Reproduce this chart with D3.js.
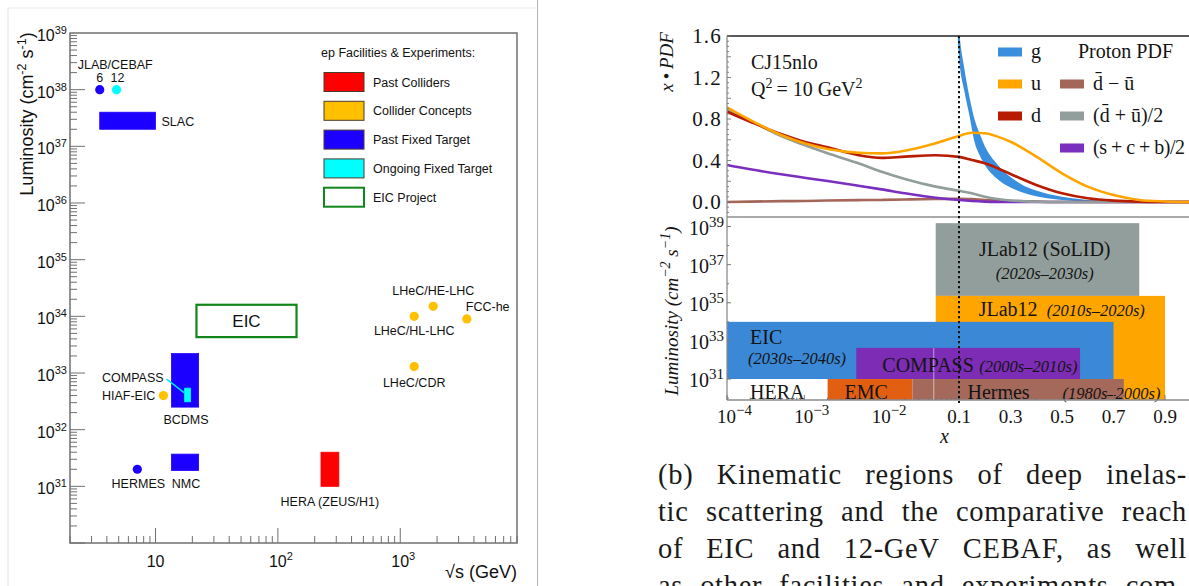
<!DOCTYPE html>
<html>
<head>
<meta charset="utf-8">
<script src="https://cdn.jsdelivr.net/npm/d3@7"></script>
<style>
  html, body { margin: 0; padding: 0; background: #fff; }
  svg { display: block; }
</style>
</head>
<body>
<svg id="fig" width="1189" height="586"></svg>
<script>
// ---------------------------------------------------------------
// Left panel: ep facilities, sqrt(s) in GeV vs luminosity (cm^-2 s^-1)
// ---------------------------------------------------------------
const pointNames = ["JLAB 6", "JLAB 12", "HERMES", "HIAF-EIC", "LHeC/HE-LHC", "LHeC/HL-LHC", "FCC-he", "LHeC/CDR"];
const pointSqrtS = [3.5, 4.8, 7.1, 11.6, 1860, 1300, 3500, 1300];
const pointLumi  = [1e38, 1e38, 2e31, 4e32, 1.5e34, 1e34, 9e33, 1.3e33];
const pointKind  = ["pastFixed", "ongoingFixed", "pastFixed", "concept", "concept", "concept", "concept", "concept"];

const boxNames = ["SLAC", "BCDMS", "NMC", "COMPASS", "HERA (ZEUS/H1)", "EIC"];
const boxSqrtS = [[3.5, 10], [13.5, 22.5], [13.5, 22.5], [17.3, 19.3], [225, 315], [21.6, 142]];
const boxLumi  = [[2e37, 4e37], [2.5e32, 2.2e33], [1.9e31, 3.7e31], [3.1e32, 5.4e32], [1e31, 4e31], [4.3e33, 1.6e34]];
const boxKind  = ["pastFixed", "pastFixed", "pastFixed", "ongoingFixed", "pastCollider", "eic"];

const legendTitle  = "ep Facilities & Experiments:";
const legendKinds  = ["pastCollider", "concept", "pastFixed", "ongoingFixed", "eic"];
const legendLabels = ["Past Colliders", "Collider Concepts", "Past Fixed Target", "Ongoing Fixed Target", "EIC Project"];

const lumiTickExponents = [31, 32, 33, 34, 35, 36, 37, 38, 39];
const sqrtSTickLabels   = [{v: 10, base: "10", exp: ""}, {v: 100, base: "10", exp: "2"}, {v: 1000, base: "10", exp: "3"}];

// ---------------------------------------------------------------
// Right panel, top: CJ15nlo proton PDFs at Q^2 = 10 GeV^2 (x * f(x))
// ---------------------------------------------------------------
const pdfX    = [1e-4, 2e-4, 5e-4, 1e-3, 2e-3, 5e-3, 0.01, 0.02, 0.05, 0.1, 0.15, 0.2, 0.25, 0.3, 0.4, 0.5, 0.6, 0.7, 0.8, 0.9, 1.0];
const pdfU    = [0.913, 0.79, 0.646, 0.566, 0.511, 0.475, 0.469, 0.494, 0.566, 0.636, 0.667, 0.662, 0.63, 0.581, 0.437, 0.277, 0.148, 0.067, 0.02, 0.005, 0];
const pdfD    = [0.87, 0.774, 0.655, 0.581, 0.527, 0.452, 0.425, 0.437, 0.451, 0.435, 0.405, 0.373, 0.325, 0.27, 0.164, 0.084, 0.036, 0.013, 0.003, 0, 0];
const pdfSea  = [0.893, 0.782, 0.636, 0.549, 0.469, 0.373, 0.292, 0.222, 0.148, 0.108, 0.084, 0.051, 0.029, 0.015, 0.003, 0, 0, 0, 0, 0, 0];
const pdfHeavy= [0.357, 0.315, 0.267, 0.234, 0.202, 0.157, 0.122, 0.084, 0.041, 0.019, 0.01, 0.004, 0.001, 0, 0, 0, 0, 0, 0, 0, 0];
const pdfDbarMinusUbar = [0, 0.004, 0.008, 0.01, 0.014, 0.018, 0.02, 0.024, 0.029, 0.032, 0.028, 0.02, 0.014, 0.01, 0.004, 0, 0, 0, 0, 0, 0];

// gluon uncertainty band (lower / upper edge)
const gluonX  = [0.09, 0.1, 0.12, 0.14, 0.16, 0.18, 0.2, 0.25, 0.3, 0.35, 0.4, 0.5, 0.6, 0.7, 0.8, 0.9, 1.0];
const gluonLo = [2.0, 1.40, 1.08, 0.84, 0.58, 0.45, 0.36, 0.22, 0.14, 0.09, 0.055, 0.02, 0.006, 0.002, 0, 0, 0];
const gluonHi = [2.3, 1.68, 1.30, 1.02, 0.80, 0.66, 0.54, 0.36, 0.24, 0.16, 0.11, 0.05, 0.02, 0.007, 0.002, 0, 0];

const pdfYTicks = [0.0, 0.4, 0.8, 1.2, 1.6];

// ---------------------------------------------------------------
// Right panel, bottom: kinematic reach in x and luminosity
// ---------------------------------------------------------------
const expNames  = ["JLab12 (SoLID)", "JLab12", "EIC", "COMPASS", "HERA", "EMC", "Hermes"];
const expX      = [[0.05, 0.8], [0.05, 0.9], [1e-4, 0.7], [0.0047, 0.57], [1e-4, 2e-3], [2e-3, 0.025], [0.025, 0.74]];
const expLumi   = [[2.3e35, 1.5e39], [7.9e29, 2.3e35], [1e31, 1e34], [1e31, 4.3e32], [7.9e29, 1e31], [7.9e29, 1e31], [7.9e29, 1e31]];
const expEras   = ["(2020s\u20132030s)", "(2010s\u20132020s)", "(2030s\u20132040s)", "(2000s\u20132010s)", "", "", "(1980s\u20132000s)"];

const lumiRightTickExponents = [31, 33, 35, 37, 39];
const xLogTickExponents = [-4, -3, -2];
const xLinTickLabels = [0.1, 0.3, 0.5, 0.7, 0.9];

const captionLines = [
  "(b) Kinematic regions of deep inelas-",
  "tic scattering and the comparative reach",
  "of EIC and 12-GeV CEBAF, as well",
  "as other facilities and experiments com-"
];

// ---------------------------------------------------------------
const svg = d3.select("#fig");
const SANS = "'Liberation Sans', Arial, Helvetica, sans-serif";
const SERIF = "'Liberation Serif', 'Times New Roman', serif";

const kindFill = {
  pastCollider: "#ff0000",
  concept: "#ffc000",
  pastFixed: "#1c00ff",
  ongoingFixed: "#00ffff",
  eic: "#ffffff"
};

// superscript helper for power-of-ten labels
function power(textSel, base, exp, supSize, rise) {
  textSel.append("tspan").text(base);
  if (exp) textSel.append("tspan").attr("font-size", supSize).attr("dy", -rise).text(exp);
  return textSel;
}

// ===================== LEFT PANEL =====================
const LP = {x0: 70, x1: 517, y0: 33, y1: 543};
const xL = d3.scaleLog().domain([2, 9000]).range([LP.x0, LP.x1]);
const yL = d3.scaleLog().domain([1e30, 1e39]).range([LP.y1, LP.y0]);

// panel border of the left figure
svg.append("line").attr("x1", 8).attr("x2", 8).attr("y1", 8).attr("y2", 586).attr("stroke", "#e2e2e2");
svg.append("line").attr("x1", 8).attr("x2", 537).attr("y1", 8).attr("y2", 8).attr("stroke", "#ececec");
svg.append("line").attr("x1", 537.5).attr("x2", 537.5).attr("y1", 0).attr("y2", 586).attr("stroke", "#b4b4b4");

const left = svg.append("g").attr("font-family", SANS);

// frame
left.append("rect").attr("x", LP.x0).attr("y", LP.y0)
  .attr("width", LP.x1 - LP.x0).attr("height", LP.y1 - LP.y0)
  .attr("fill", "none").attr("stroke", "#707070").attr("stroke-width", 1.5);

// y ticks (log, inward)
const yTicksL = [];
for (let d = 30; d < 39; d++) for (let k = 1; k <= 9; k++) yTicksL.push({v: k * Math.pow(10, d), major: k === 1});
left.append("g").selectAll("line").data(yTicksL).join("line")
  .attr("x1", LP.x0).attr("x2", d => LP.x0 + (d.major ? 15 : 7))
  .attr("y1", d => yL(d.v)).attr("y2", d => yL(d.v))
  .attr("stroke", "#707070").attr("stroke-width", 1);

lumiTickExponents.forEach(e => {
  const t = left.append("text").attr("x", LP.x0 - 3).attr("y", yL(Math.pow(10, e)) + 8)
    .attr("text-anchor", "end").attr("font-size", 16).attr("fill", "#111");
  power(t, "10", String(e), 11, 7);
});

// x ticks (log, inward)
const xTicksL = [];
for (let d = 0; d <= 3; d++) for (let k = 1; k <= 9; k++) {
  const v = k * Math.pow(10, d);
  if (v >= 2 && v <= 9000) xTicksL.push({v, major: k === 1});
}
left.append("g").selectAll("line").data(xTicksL).join("line")
  .attr("x1", d => xL(d.v)).attr("x2", d => xL(d.v))
  .attr("y1", LP.y1).attr("y2", d => LP.y1 - (d.major ? 15 : 7))
  .attr("stroke", "#707070").attr("stroke-width", 1);

sqrtSTickLabels.forEach(t => {
  const tx = left.append("text").attr("x", xL(t.v) + (t.exp ? 3 : 0)).attr("y", LP.y1 + 24)
    .attr("text-anchor", "middle").attr("font-size", 16).attr("fill", "#111");
  power(tx, t.base, t.exp, 11, 7);
});

// axis titles
left.append("text").attr("x", LP.x1).attr("y", 578).attr("text-anchor", "end")
  .attr("font-size", 18).attr("fill", "#111").text("\u221As (GeV)");
const yTitle = left.append("text")
  .attr("transform", `translate(33, ${(26 + 202) / 2}) rotate(-90)`)
  .attr("text-anchor", "middle").attr("font-size", 18).attr("fill", "#111");
yTitle.append("tspan").text("Luminosity (cm");
yTitle.append("tspan").attr("font-size", 12.5).attr("dy", -7).text("-2");
yTitle.append("tspan").attr("dy", 7).text(" s");
yTitle.append("tspan").attr("font-size", 12.5).attr("dy", -7).text("-1");
yTitle.append("tspan").attr("dy", 7).text(")");

// boxes
const boxes = boxNames.map((name, i) => ({name, s: boxSqrtS[i], l: boxLumi[i], kind: boxKind[i]}));
left.append("g").selectAll("rect").data(boxes).join("rect")
  .attr("x", d => xL(d.s[0])).attr("y", d => yL(d.l[1]))
  .attr("width", d => xL(d.s[1]) - xL(d.s[0])).attr("height", d => yL(d.l[0]) - yL(d.l[1]))
  .attr("fill", d => kindFill[d.kind])
  .attr("stroke", d => d.kind === "eic" ? "#12861a" : d3.color(kindFill[d.kind]).brighter(0.6))
  .attr("stroke-width", d => d.kind === "eic" ? 2.2 : 0.8);

// points
const points = pointNames.map((name, i) => ({name, s: pointSqrtS[i], l: pointLumi[i], kind: pointKind[i]}));
left.append("g").selectAll("circle").data(points).join("circle")
  .attr("cx", d => xL(d.s)).attr("cy", d => yL(d.l)).attr("r", 4.6)
  .attr("fill", d => kindFill[d.kind]);

// labels placed around their marks
const P = name => points.find(p => p.name === name);
const B = name => boxes.find(b => b.name === name);
function lbl(x, y, text, anchor = "middle", size = 12.5) {
  left.append("text").attr("x", x).attr("y", y).attr("text-anchor", anchor)
    .attr("font-size", size).attr("fill", "#111").text(text);
}
const j6 = P("JLAB 6"), j12 = P("JLAB 12");
lbl(xL(j6.s) - 22, yL(j6.l) - 21, "JLAB/CEBAF", "start");
lbl(xL(j6.s), yL(j6.l) - 8, "6");
lbl(xL(j12.s) + 1, yL(j12.l) - 8, "12");
const slac = B("SLAC");
lbl(xL(slac.s[1]) + 6, (yL(slac.l[0]) + yL(slac.l[1])) / 2 + 5, "SLAC", "start");
const eic = B("EIC");
lbl((xL(eic.s[0]) + xL(eic.s[1])) / 2, (yL(eic.l[0]) + yL(eic.l[1])) / 2 + 6, "EIC", "middle", 17);
const comp = B("COMPASS");
lbl(xL(comp.s[0]) - 21, yL(comp.l[1]) - 6, "COMPASS", "end");
left.append("line")
  .attr("x1", xL(comp.s[0]) - 18).attr("y1", yL(comp.l[1]) - 9)
  .attr("x2", xL(comp.s[0])).attr("y2", yL(comp.l[1]) + 5)
  .attr("stroke", "#00e5ff").attr("stroke-width", 1.5);
const hiaf = P("HIAF-EIC");
lbl(xL(hiaf.s) - 8, yL(hiaf.l) + 4.5, "HIAF-EIC", "end");
const bcdms = B("BCDMS");
lbl((xL(bcdms.s[0]) + xL(bcdms.s[1])) / 2 + 1, yL(bcdms.l[0]) + 17, "BCDMS");
const hermesL = P("HERMES");
lbl(xL(hermesL.s) + 1, yL(hermesL.l) + 19, "HERMES");
const nmc = B("NMC");
lbl((xL(nmc.s[0]) + xL(nmc.s[1])) / 2 + 1, yL(nmc.l[0]) + 17, "NMC");
const hera = B("HERA (ZEUS/H1)");
lbl((xL(hera.s[0]) + xL(hera.s[1])) / 2, yL(hera.l[0]) + 20, "HERA (ZEUS/H1)");
const heLhc = P("LHeC/HE-LHC"), hlLhc = P("LHeC/HL-LHC"), fcc = P("FCC-he"), cdr = P("LHeC/CDR");
lbl(xL(heLhc.s), yL(heLhc.l) - 11, "LHeC/HE-LHC");
lbl(xL(hlLhc.s), yL(hlLhc.l) + 19, "LHeC/HL-LHC");
lbl(xL(fcc.s) - 1, yL(fcc.l) - 8, "FCC-he", "start");
lbl(xL(cdr.s), yL(cdr.l) + 20, "LHeC/CDR");

// legend
const leg = left.append("g");
leg.append("text").attr("x", 321).attr("y", 57).attr("font-size", 12.5).attr("fill", "#111").text(legendTitle);
legendKinds.forEach((k, i) => {
  const cy = 82 + i * 28.8;
  leg.append("rect").attr("x", 324).attr("y", cy - 9.5).attr("width", 40).attr("height", 19)
    .attr("fill", kindFill[k])
    .attr("stroke", k === "eic" ? "#12861a" : "#4a3a30").attr("stroke-width", k === "eic" ? 2 : 1);
  leg.append("text").attr("x", 373).attr("y", cy + 4.5).attr("font-size", 12.5).attr("fill", "#111").text(legendLabels[i]);
});

// ===================== RIGHT PANEL =====================
const RX0 = 727, RX_SPLIT = 959, RX1 = 1190.75;
const xLogPart = d3.scaleLog().domain([1e-4, 0.1]).range([RX0, RX_SPLIT]);
const xLinPart = d3.scaleLinear().domain([0.1, 1]).range([RX_SPLIT, RX1]);
const xR = v => (v <= 0.1 ? xLogPart(v) : xLinPart(v));

const TOP = {y0: 36, yZero: 202, y1: 217};
const yTop = d3.scaleLinear().domain([0, 1.6]).range([TOP.yZero, TOP.y0]);
const BOT = {y0: 217, y1: 400};
const yBot = d3.scaleLog().domain([Math.pow(10, 29.9), Math.pow(10, 39.5)]).range([BOT.y1, BOT.y0]);

const right = svg.append("g").attr("font-family", SERIF);
const defs = svg.append("defs");
defs.append("clipPath").attr("id", "clipTop").append("rect")
  .attr("x", RX0).attr("y", TOP.y0).attr("width", 1189 - RX0).attr("height", TOP.y1 - TOP.y0);
defs.append("clipPath").attr("id", "clipBot").append("rect")
  .attr("x", RX0).attr("y", BOT.y0).attr("width", 1189 - RX0).attr("height", BOT.y1 - BOT.y0);

// ---- bottom: experiment regions ----
const expColors = {
  "JLab12 (SoLID)": "#929e9b", "JLab12": "#ffa500", "EIC": "#3a88d6", "COMPASS": "#7d2cb5",
  "HERA": "#ffffff", "EMC": "#e25e10", "Hermes": "#a5695b"
};
const exps = expNames.map((name, i) => ({name, x: expX[i], l: expLumi[i], era: expEras[i]}));
const botG = right.append("g").attr("clip-path", "url(#clipBot)");
botG.selectAll("rect").data(exps).join("rect")
  .attr("x", d => xR(d.x[0])).attr("y", d => yBot(d.l[1]))
  .attr("width", d => xR(d.x[1]) - xR(d.x[0])).attr("height", d => yBot(d.l[0]) - yBot(d.l[1]))
  .attr("fill", d => expColors[d.name]);
// faint seam at the left edge of the JLab regions, through COMPASS and Hermes
const jl = exps.find(e => e.name === "JLab12"), cp = exps.find(e => e.name === "COMPASS");
botG.append("line").attr("x1", xR(jl.x[0]) - 2).attr("x2", xR(jl.x[0]) - 2)
  .attr("y1", yBot(cp.l[1])).attr("y2", BOT.y1)
  .attr("stroke", "#ffffff").attr("stroke-opacity", 0.45).attr("stroke-width", 1.2);

const E = name => exps.find(e => e.name === name);
function rlbl(x, y, text, size = 20, italic = false, anchor = "start") {
  right.append("text").attr("x", x).attr("y", y).attr("font-size", size)
    .attr("font-style", italic ? "italic" : "normal").attr("text-anchor", anchor)
    .attr("fill", "#141414").text(text);
}
const solid = E("JLab12 (SoLID)");
rlbl(xR(solid.x[0]) + 109, yBot(solid.l[1]) + 33, solid.name, 20, false, "middle");
rlbl(xR(solid.x[0]) + 109, yBot(solid.l[1]) + 56, solid.era, 16.5, true, "middle");
rlbl(xR(jl.x[0]) + 43, yBot(jl.l[1]) + 20, jl.name);
rlbl(xR(jl.x[0]) + 111, yBot(jl.l[1]) + 20, jl.era, 16.5, true);
const eicR = E("EIC");
rlbl(xR(eicR.x[0]) + 23, yBot(eicR.l[1]) + 22, eicR.name);
rlbl(xR(eicR.x[0]) + 21, yBot(eicR.l[1]) + 42, eicR.era, 16.5, true);
rlbl(xR(cp.x[0]) + 26, yBot(cp.l[1]) + 24, cp.name);
rlbl(xR(cp.x[0]) + 123, yBot(cp.l[1]) + 24, cp.era, 16.5, true);
const heraR = E("HERA"), emc = E("EMC"), herm = E("Hermes");
rlbl(xR(heraR.x[0]) + 23, yBot(heraR.l[1]) + 20, heraR.name);
rlbl(xR(emc.x[0]) + 17, yBot(emc.l[1]) + 20, emc.name);
rlbl(xR(herm.x[0]) + 55, yBot(herm.l[1]) + 20, herm.name);
rlbl(xR(herm.x[0]) + 150, yBot(herm.l[1]) + 20, herm.era, 16.5, true);

// ---- top: PDF curves ----
const topG = right.append("g").attr("clip-path", "url(#clipTop)");
const area = d3.area().x(d => xR(d.x)).y0(d => yTop(d.lo)).y1(d => yTop(d.hi)).curve(d3.curveMonotoneX);
topG.append("path")
  .datum(gluonX.map((x, i) => ({x, lo: gluonLo[i], hi: gluonHi[i]})))
  .attr("d", area).attr("fill", "#3a8ede");

const line = d3.line().x(d => xR(d.x)).y(d => yTop(d.y)).curve(d3.curveMonotoneX);
const curves = [
  {vals: pdfDbarMinusUbar, color: "#a5665a"},
  {vals: pdfHeavy, color: "#7b2fbf"},
  {vals: pdfSea, color: "#919e9c"},
  {vals: pdfD, color: "#b81c00"},
  {vals: pdfU, color: "#ffa500"}
];
curves.forEach(c => {
  topG.append("path").datum(pdfX.map((x, i) => ({x, y: c.vals[i]})))
    .attr("d", line).attr("fill", "none").attr("stroke", c.color).attr("stroke-width", 2.6);
});

// ---- axes, frame ----
const axisGray = "#8c8c8c";
right.append("line").attr("x1", RX0).attr("x2", 1189).attr("y1", TOP.y0).attr("y2", TOP.y0)
  .attr("stroke", "#222").attr("stroke-width", 1.5);
right.append("line").attr("x1", RX0).attr("x2", 1189).attr("y1", BOT.y0).attr("y2", BOT.y0)
  .attr("stroke", axisGray).attr("stroke-width", 1.3);
right.append("line").attr("x1", RX0).attr("x2", 1189).attr("y1", BOT.y1).attr("y2", BOT.y1)
  .attr("stroke", axisGray).attr("stroke-width", 1.3);
right.append("line").attr("x1", RX0).attr("x2", RX0).attr("y1", TOP.y0).attr("y2", BOT.y1)
  .attr("stroke", axisGray).attr("stroke-width", 1.3);

// top y ticks
const topTicks = d3.range(-2, 33).map(i => i * 0.05);
right.append("g").selectAll("line").data(topTicks).join("line")
  .attr("x1", RX0).attr("x2", (d, i) => RX0 + ((i + 2) % 4 === 0 ? 4 : 2))
  .attr("y1", d => yTop(d)).attr("y2", d => yTop(d))
  .attr("stroke", "#777").attr("stroke-width", 0.9);
pdfYTicks.forEach(v => {
  right.append("text").attr("x", RX0 - 5).attr("y", yTop(v) + 7).attr("text-anchor", "end")
    .attr("font-size", 21).attr("letter-spacing", 1.2).attr("fill", "#141414").text(v.toFixed(1));
});

// bottom y ticks
for (let d = 30; d <= 39; d++) {
  right.append("line").attr("x1", RX0).attr("x2", RX0 + (d % 2 ? 4 : 2))
    .attr("y1", yBot(Math.pow(10, d))).attr("y2", yBot(Math.pow(10, d)))
    .attr("stroke", "#777");
}
lumiRightTickExponents.forEach(e => {
  const t = right.append("text").attr("x", RX0 - 3).attr("y", yBot(Math.pow(10, e)) + 8)
    .attr("text-anchor", "end").attr("font-size", 20).attr("fill", "#141414");
  power(t, "10", String(e), 15, 8);
});

// bottom x ticks: log part
for (let d = -4; d <= -2; d++) for (let k = 1; k <= 9; k++) {
  const v = k * Math.pow(10, d);
  right.append("line").attr("x1", xR(v)).attr("x2", xR(v))
    .attr("y1", BOT.y1).attr("y2", BOT.y1 - (k === 1 ? 5 : 2.5)).attr("stroke", "#777");
}
xLogTickExponents.forEach(e => {
  const t = right.append("text").attr("x", xR(Math.pow(10, e)) - 10).attr("y", BOT.y1 + 23)
    .attr("font-size", 19).attr("fill", "#141414");
  power(t, "10", "\u2212" + Math.abs(e), 15, 8);
});
// linear part
d3.range(1, 10).forEach(i => {
  const v = i / 10;
  right.append("line").attr("x1", xR(v)).attr("x2", xR(v))
    .attr("y1", BOT.y1).attr("y2", BOT.y1 - (i % 2 ? 5 : 2.5)).attr("stroke", "#777");
});
xLinTickLabels.forEach(v => {
  right.append("text").attr("x", xR(v)).attr("y", BOT.y1 + 23).attr("text-anchor", "middle")
    .attr("font-size", 19).attr("fill", "#141414").text(String(v));
});

// x = 0.1 marker
right.append("line").attr("x1", xR(0.1)).attr("x2", xR(0.1)).attr("y1", TOP.y0).attr("y2", BOT.y1 + 3)
  .attr("stroke", "#111").attr("stroke-width", 2).attr("stroke-dasharray", "2.2,2.8");

// axis titles
right.append("text").attr("x", xR(0.1) - 19).attr("y", 443).attr("font-size", 20)
  .attr("font-style", "italic").attr("fill", "#141414").text("x");
right.append("text").attr("transform", "translate(673, 62) rotate(-90)").attr("text-anchor", "middle")
  .attr("font-size", 19).attr("font-style", "italic").attr("fill", "#141414").text("x\u2009\u2022\u2009PDF");
const ry = right.append("text").attr("transform", "translate(678, 311) rotate(-90)").attr("text-anchor", "middle")
  .attr("font-size", 19).attr("font-style", "italic").attr("fill", "#141414");
ry.append("tspan").text("Luminosity (cm");
ry.append("tspan").attr("font-size", 14).attr("dy", -8).text("\u22122");
ry.append("tspan").attr("dy", 8).text(" s");
ry.append("tspan").attr("font-size", 14).attr("dy", -8).text("\u22121");
ry.append("tspan").attr("dy", 8).text(")");

// annotation
right.append("text").attr("x", 751).attr("y", 69).attr("font-size", 20).attr("fill", "#141414").text("CJ15nlo");
const q = right.append("text").attr("x", 751).attr("y", 96).attr("font-size", 20).attr("fill", "#141414");
q.append("tspan").text("Q");
q.append("tspan").attr("font-size", 14).attr("dy", -8).text("2");
q.append("tspan").attr("dy", 8).text("\u2009= 10 GeV");
q.append("tspan").attr("font-size", 14).attr("dy", -8).text("2");

// PDF legend
const pdfLegend = [
  {label: "g", color: "#3a8ede", col: 0, row: 0},
  {label: "u", color: "#ffa500", col: 0, row: 1},
  {label: "d", color: "#b81c00", col: 0, row: 2},
  {label: "d\u0304 \u2212 u\u0304", color: "#a5665a", col: 1, row: 1},
  {label: "(d\u0304 + u\u0304)/2", color: "#919e9c", col: 1, row: 2},
  {label: "(s + c + b)/2", color: "#7b2fbf", col: 1, row: 3}
];
pdfLegend.forEach(e => {
  const sx = e.col ? 1060 : 998;
  const cy = 52 + e.row * 32;
  right.append("rect").attr("x", sx).attr("y", cy - 4.5).attr("width", 24).attr("height", 9).attr("fill", e.color);
  const t = right.append("text").attr("x", sx + 33).attr("y", cy + 6).attr("font-size", 20).attr("fill", "#141414").text(e.label);
  // keep the widest entry inside the page
  const w = t.node().getComputedTextLength();
  if (sx + 33 + w > 1185) t.attr("textLength", 1185 - sx - 33).attr("lengthAdjust", "spacing");
});
right.append("text").attr("x", 1078).attr("y", 58).attr("font-size", 20).attr("fill", "#141414").text("Proton PDF");

// ---- caption (justified) ----
const capLeft = 658, capRight = 1187, capTop = 484, capLead = 37;
const cap = svg.append("g").attr("font-family", SERIF).attr("font-size", 28.5).attr("fill", "#1a1a1a");
captionLines.forEach((ln, i) => {
  const words = ln.split(" ");
  const nodes = words.map(w => cap.append("text").attr("y", capTop + i * capLead).attr("letter-spacing", 0.7).text(w));
  const widths = nodes.map(n => n.node().getComputedTextLength());
  const gap = (capRight - capLeft - d3.sum(widths)) / (words.length - 1);
  let x = capLeft;
  nodes.forEach((n, j) => { n.attr("x", x); x += widths[j] + gap; });
});
</script>
</body>
</html>
